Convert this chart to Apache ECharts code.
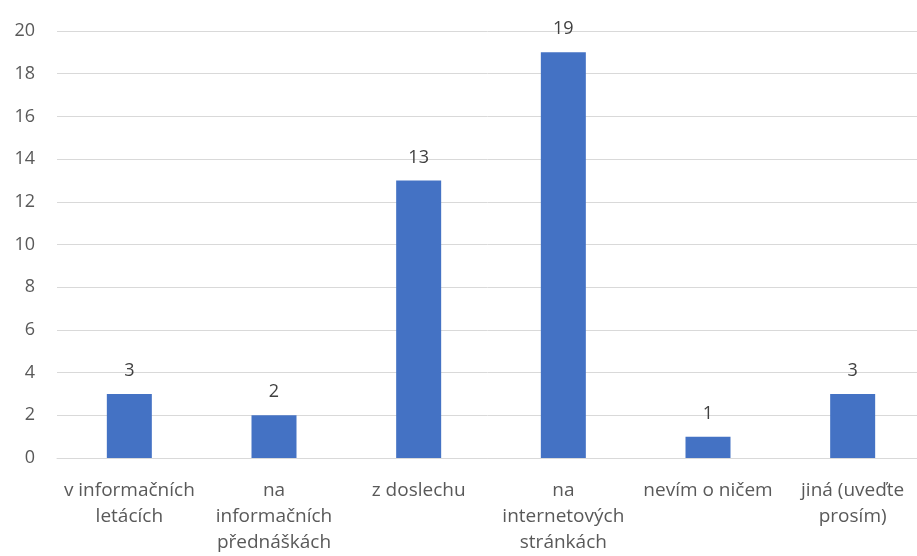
<!DOCTYPE html>
<html>
<head>
<meta charset="utf-8">
<script src="https://cdn.jsdelivr.net/npm/echarts@6/dist/echarts.min.js"></script>
<style>
  html, body { margin: 0; padding: 0; background: #fff; }
  #main { width: 917px; height: 556px; }
</style>
</head>
<body>
<div id="main"></div>
<script>
// kategorie a hodnoty
var categories = ['v informačních letácích', 'na informačních přednáškách', 'z doslechu',
  'na internetových stránkách', 'nevím o ničem', 'jiná (uveďte prosím)'];
var tickLabels = ['v informačních\nletácích', 'na\ninformačních\npřednáškách', 'z doslechu',
  'na\ninternetových\nstránkách', 'nevím o ničem', 'jiná (uveďte\nprosím)'];
var values = [3, 2, 13, 19, 1, 3];

var chart = echarts.init(document.getElementById('main'));
chart.setOption({
  animation: false,
  grid: { left: 57, right: -8, top: 31, bottom: 98, outerBoundsMode: 'none' },
  xAxis: {
    type: 'category',
    data: categories,
    axisLine: { lineStyle: { color: '#d9d9d9' } },
    axisTick: { show: false },
    axisLabel: {
      interval: 0,
      margin: 20,
      color: '#595959',
      fontFamily: 'Open Sans',
      fontSize: 19,
      lineHeight: 26,
      formatter: function (v, i) { return tickLabels[i]; }
    }
  },
  yAxis: {
    type: 'value',
    min: 0,
    max: 20,
    interval: 2,
    axisLine: { show: false },
    axisTick: { show: false },
    splitLine: { lineStyle: { color: '#d9d9d9' } },
    axisLabel: { color: '#595959', fontFamily: 'Open Sans', fontSize: 18, margin: 22 }
  },
  series: [{
    type: 'bar',
    data: values,
    barWidth: 45,
    itemStyle: { color: '#4472c4' },
    label: {
      show: true,
      position: 'top',
      distance: 14,
      color: '#404040',
      fontFamily: 'Open Sans',
      fontSize: 18
    }
  }]
});
</script>
</body>
</html>
